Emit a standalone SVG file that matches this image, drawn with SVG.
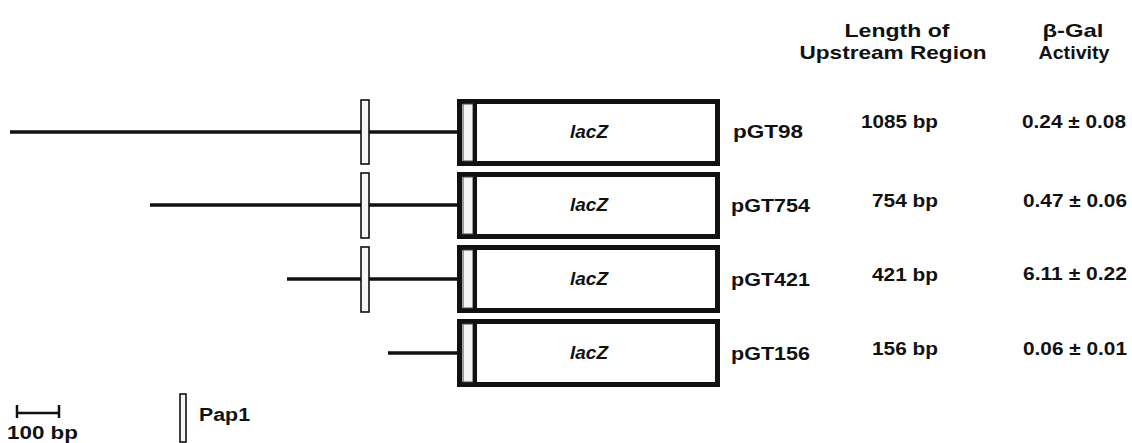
<svg xmlns="http://www.w3.org/2000/svg" width="1132" height="443" viewBox="0 0 1132 443">
<style>
text{font-family:"Liberation Sans",Arial,sans-serif;font-weight:bold;fill:#111;}
.t{font-size:18px;}
.h{font-size:19px;text-anchor:middle;}
.lz{font-size:18px;font-style:italic;text-anchor:middle;}
.ln{stroke:#111;stroke-width:3.5;fill:none;}
.box{fill:#fff;stroke:#111;stroke-width:5;}
.strip{fill:#f3f3f3;stroke:#444;stroke-width:1;}
.bar{stroke:#111;stroke-width:4;}
.pap{fill:#f6f6f6;stroke:#111;stroke-width:1.6;}
</style>
<g id="headers">
<text class="h" x="897" y="37" textLength="105" lengthAdjust="spacingAndGlyphs">Length of</text>
<text class="h" x="893" y="59" textLength="187" lengthAdjust="spacingAndGlyphs">Upstream Region</text>
<text class="h" x="1073" y="37" textLength="61" lengthAdjust="spacingAndGlyphs">β-Gal</text>
<text class="h" x="1074" y="59" textLength="71" lengthAdjust="spacingAndGlyphs">Activity</text>
</g>
<g id="connectors">
<line class="ln" x1="10" y1="132" x2="458" y2="132"/>
<line class="ln" x1="150" y1="205" x2="458" y2="205"/>
<line class="ln" x1="287" y1="279" x2="458" y2="279"/>
<line class="ln" x1="388" y1="353" x2="458" y2="353"/>
</g>
<g id="row1">
<rect class="pap" x="361" y="100" width="8" height="64"/>
<rect class="box" x="459.5" y="101.5" width="258" height="62"/>
<rect class="strip" x="463" y="104" width="10" height="57"/>
<line class="bar" x1="475" y1="104" x2="475" y2="161"/>
<text class="lz" x="589" y="138" textLength="38" lengthAdjust="spacingAndGlyphs">lacZ</text>
<text class="t" x="733" y="138" textLength="70" lengthAdjust="spacingAndGlyphs">pGT98</text>
<text class="t" x="938" y="128" text-anchor="end" textLength="77" lengthAdjust="spacingAndGlyphs">1085 bp</text>
<text class="t" x="1126" y="128" text-anchor="end" textLength="104" lengthAdjust="spacingAndGlyphs">0.24 ± 0.08</text>
</g>
<g id="row2">
<rect class="pap" x="361" y="173" width="8" height="65"/>
<rect class="box" x="459.5" y="174.5" width="258" height="62"/>
<rect class="strip" x="463" y="177" width="10" height="57"/>
<line class="bar" x1="475" y1="177" x2="475" y2="234"/>
<text class="lz" x="589" y="211" textLength="38" lengthAdjust="spacingAndGlyphs">lacZ</text>
<text class="t" x="731" y="212" textLength="79" lengthAdjust="spacingAndGlyphs">pGT754</text>
<text class="t" x="938" y="207" text-anchor="end" textLength="66" lengthAdjust="spacingAndGlyphs">754 bp</text>
<text class="t" x="1127" y="207" text-anchor="end" textLength="104" lengthAdjust="spacingAndGlyphs">0.47 ± 0.06</text>
</g>
<g id="row3">
<rect class="pap" x="361" y="247" width="8" height="65"/>
<rect class="box" x="459.5" y="247.5" width="258" height="63"/>
<rect class="strip" x="463" y="250" width="10" height="58"/>
<line class="bar" x1="475" y1="250" x2="475" y2="308"/>
<text class="lz" x="589" y="285" textLength="38" lengthAdjust="spacingAndGlyphs">lacZ</text>
<text class="t" x="731" y="286" textLength="79" lengthAdjust="spacingAndGlyphs">pGT421</text>
<text class="t" x="938" y="281" text-anchor="end" textLength="66" lengthAdjust="spacingAndGlyphs">421 bp</text>
<text class="t" x="1127" y="280" text-anchor="end" textLength="104" lengthAdjust="spacingAndGlyphs">6.11 ± 0.22</text>
</g>
<g id="row4">
<rect class="box" x="459.5" y="321.5" width="258" height="63"/>
<rect class="strip" x="463" y="324" width="10" height="58"/>
<line class="bar" x1="475" y1="324" x2="475" y2="382"/>
<text class="lz" x="589" y="359" textLength="38" lengthAdjust="spacingAndGlyphs">lacZ</text>
<text class="t" x="731" y="360" textLength="79" lengthAdjust="spacingAndGlyphs">pGT156</text>
<text class="t" x="938" y="355" text-anchor="end" textLength="66" lengthAdjust="spacingAndGlyphs">156 bp</text>
<text class="t" x="1127" y="355" text-anchor="end" textLength="104" lengthAdjust="spacingAndGlyphs">0.06 ± 0.01</text>
</g>
<g id="scale">
<line x1="17" y1="413" x2="59" y2="413" stroke="#111" stroke-width="2.5"/>
<line x1="17" y1="405" x2="17" y2="418" stroke="#111" stroke-width="2.5"/>
<line x1="59" y1="405" x2="59" y2="418" stroke="#111" stroke-width="2.5"/>
<text class="t" x="7" y="439" textLength="71" lengthAdjust="spacingAndGlyphs">100 bp</text>
</g>
<g id="legend">
<rect class="pap" x="180" y="394" width="6" height="48"/>
<text class="t" x="199" y="421" textLength="51" lengthAdjust="spacingAndGlyphs">Pap1</text>
</g>
</svg>
